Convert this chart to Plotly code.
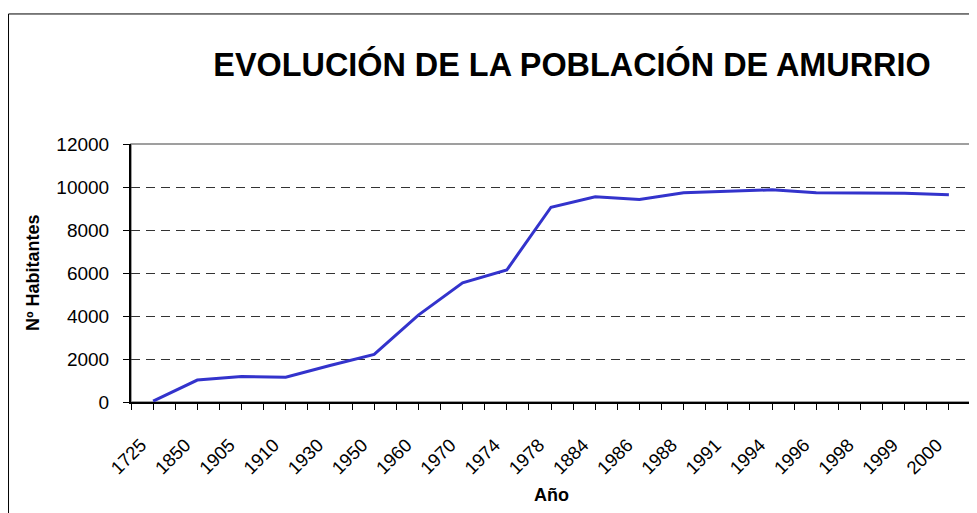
import plotly.graph_objects as go

# Datos de población de Amurrio
anios = ['1725', '1850', '1905', '1910', '1930', '1950', '1960', '1970',
         '1974', '1978', '1884', '1986', '1988', '1991', '1994', '1996',
         '1998', '1999', '2000']
habitantes = [40, 1020, 1190, 1150, 1700, 2210, 4040, 5540, 6140, 9060,
              9550, 9420, 9730, 9790, 9870, 9730, 9730, 9710, 9640]
y_ticks = [0, 2000, 4000, 6000, 8000, 10000, 12000]

FONT = "Arial, Liberation Sans, sans-serif"
pos = list(range(len(anios)))

# la página tiene 8px de margen en el body
W, H = 969, 505

fig = go.Figure()
fig.add_trace(go.Scatter(
    x=pos,
    y=habitantes,
    mode='lines',
    line=dict(color='#3333CC', width=3),
    showlegend=False,
    cliponaxis=False
))

# marco exterior del gráfico y borde del área de trazado
fig.add_shape(type='rect', xref='paper', yref='paper',
              x0=-0.1458, x1=1.2, y0=-0.7, y1=1.504,
              line=dict(color='black', width=1), layer='below')
fig.add_shape(type='rect', xref='paper', yref='paper',
              x0=0, x1=1, y0=0, y1=1,
              line=dict(color='#808080', width=1.5), layer='below')

fig.update_xaxes(
    range=[-0.5, len(anios) - 0.5],
    automargin=False,
    tickmode='array',
    tickvals=pos,
    ticktext=anios,
    tickangle=-45,
    ticks='outside',
    ticklen=6,
    tickcolor='black',
    ticklabelshift=-12,
    ticklabelstandoff=17,
    minor=dict(ticks='outside', dtick=0.5, tick0=0, ticklen=6,
               tickcolor='black', showgrid=False),
    showline=True,
    linecolor='black',
    linewidth=2,
    showgrid=False,
    zeroline=False,
    tickfont=dict(family=FONT, size=18.5, color='black'),
)
fig.update_yaxes(
    range=[0, 12000],
    automargin=False,
    tickmode='array',
    tickvals=y_ticks,
    ticktext=[str(v) for v in y_ticks],
    ticks='outside',
    ticklen=6,
    tickcolor='black',
    ticklabelstandoff=10,
    showline=True,
    linecolor='black',
    linewidth=2,
    showgrid=True,
    gridcolor='#333333',
    gridwidth=1,
    griddash='9px,6px',
    zeroline=False,
    tickfont=dict(family=FONT, size=19, color='black'),
)

# títulos de los ejes
fig.add_annotation(text='<b>Nº Habitantes</b>', xref='paper', yref='paper',
                   x=0, y=0.5, xshift=-98, textangle=-90, showarrow=False,
                   xanchor='center', yanchor='middle',
                   font=dict(family=FONT, size=18, color='black'))
fig.add_annotation(text='<b>Año</b>', xref='paper', yref='paper',
                   x=0.5, y=0, yshift=-93, showarrow=False,
                   xanchor='center', yanchor='middle',
                   font=dict(family=FONT, size=18, color='black'))

fig.update_layout(
    width=W,
    height=H,
    margin=dict(l=123, r=6, t=136, b=111, autoexpand=False),
    paper_bgcolor='white',
    plot_bgcolor='white',
    title=dict(text='<b>EVOLUCIÓN DE LA POBLACIÓN DE AMURRIO</b>',
               font=dict(family=FONT, size=32.4, color='black'),
               x=(572 - 8) / W, xanchor='center',
               y=1 - 56.5 / H, yanchor='middle')
)

fig.write_html("out.html")
